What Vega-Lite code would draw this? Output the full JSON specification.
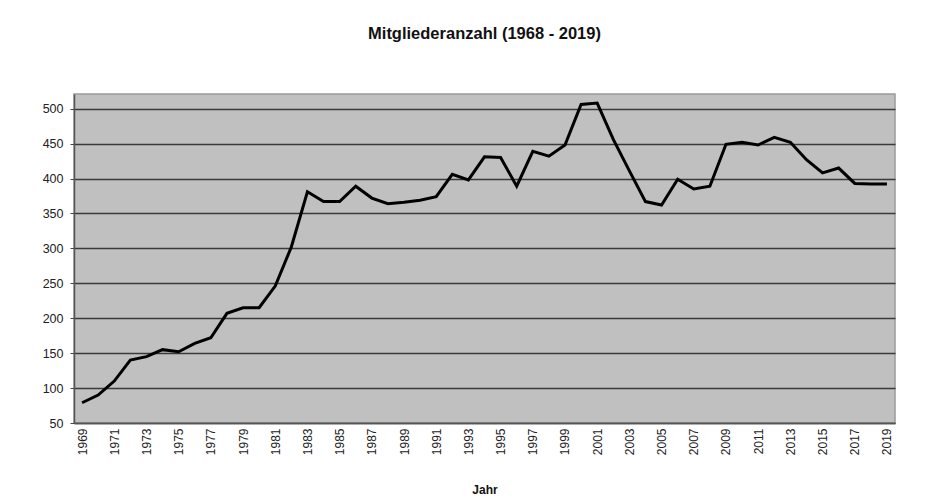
{
  "$schema": "https://vega.github.io/schema/vega-lite/v6.json",
  "width": 821,
  "height": 329,
  "autosize": {"type": "none"},
  "padding": {"left": 74, "top": 94, "right": 35, "bottom": 76},
  "background": "white",
  "title": {
    "text": "Mitgliederanzahl (1968 - 2019)",
    "font": "Liberation Sans",
    "fontSize": 16.5,
    "fontWeight": "bold",
    "color": "#111111",
    "anchor": "middle",
    "offset": 52
  },
  "config": {
    "view": {"fill": "#c0c0c0", "stroke": "#9a9a9a", "strokeWidth": 1.5}
  },
  "data": {
    "values": [
      {"Jahr": 1969, "Mitglieder": 79},
      {"Jahr": 1970, "Mitglieder": 90},
      {"Jahr": 1971, "Mitglieder": 110},
      {"Jahr": 1972, "Mitglieder": 140},
      {"Jahr": 1973, "Mitglieder": 145},
      {"Jahr": 1974, "Mitglieder": 155},
      {"Jahr": 1975, "Mitglieder": 152},
      {"Jahr": 1976, "Mitglieder": 164},
      {"Jahr": 1977, "Mitglieder": 172},
      {"Jahr": 1978, "Mitglieder": 207},
      {"Jahr": 1979, "Mitglieder": 215},
      {"Jahr": 1980, "Mitglieder": 215},
      {"Jahr": 1981, "Mitglieder": 246},
      {"Jahr": 1982, "Mitglieder": 302},
      {"Jahr": 1983, "Mitglieder": 381},
      {"Jahr": 1984, "Mitglieder": 367},
      {"Jahr": 1985, "Mitglieder": 367},
      {"Jahr": 1986, "Mitglieder": 389},
      {"Jahr": 1987, "Mitglieder": 372},
      {"Jahr": 1988, "Mitglieder": 364},
      {"Jahr": 1989, "Mitglieder": 366},
      {"Jahr": 1990, "Mitglieder": 369},
      {"Jahr": 1991, "Mitglieder": 374},
      {"Jahr": 1992, "Mitglieder": 406},
      {"Jahr": 1993, "Mitglieder": 398},
      {"Jahr": 1994, "Mitglieder": 431},
      {"Jahr": 1995, "Mitglieder": 430},
      {"Jahr": 1996, "Mitglieder": 389},
      {"Jahr": 1997, "Mitglieder": 439},
      {"Jahr": 1998, "Mitglieder": 432},
      {"Jahr": 1999, "Mitglieder": 448},
      {"Jahr": 2000, "Mitglieder": 506},
      {"Jahr": 2001, "Mitglieder": 508},
      {"Jahr": 2002, "Mitglieder": 456},
      {"Jahr": 2003, "Mitglieder": 411},
      {"Jahr": 2004, "Mitglieder": 367},
      {"Jahr": 2005, "Mitglieder": 362},
      {"Jahr": 2006, "Mitglieder": 399},
      {"Jahr": 2007, "Mitglieder": 385},
      {"Jahr": 2008, "Mitglieder": 389},
      {"Jahr": 2009, "Mitglieder": 449},
      {"Jahr": 2010, "Mitglieder": 452},
      {"Jahr": 2011, "Mitglieder": 448},
      {"Jahr": 2012, "Mitglieder": 459},
      {"Jahr": 2013, "Mitglieder": 452},
      {"Jahr": 2014, "Mitglieder": 427},
      {"Jahr": 2015, "Mitglieder": 408},
      {"Jahr": 2016, "Mitglieder": 415},
      {"Jahr": 2017, "Mitglieder": 393},
      {"Jahr": 2018, "Mitglieder": 392},
      {"Jahr": 2019, "Mitglieder": 392}
    ]
  },
  "mark": {"type": "line", "color": "#000000", "strokeWidth": 3, "strokeJoin": "miter"},
  "encoding": {
    "x": {
      "field": "Jahr",
      "type": "ordinal",
      "scale": {"type": "point", "padding": 0.5},
      "axis": {
        "title": "Jahr",
        "titleFont": "Liberation Sans",
        "titleFontSize": 12,
        "titleFontWeight": "bold",
        "titleColor": "#111111",
        "titlePadding": 30,
        "values": [1969,1971,1973,1975,1977,1979,1981,1983,1985,1987,1989,1991,1993,1995,1997,1999,2001,2003,2005,2007,2009,2011,2013,2015,2017,2019],
        "labelAngle": 270,
        "labelFont": "Liberation Sans",
        "labelFontSize": 12,
        "labelColor": "#222222",
        "labelPadding": 5,
        "ticks": false,
        "domainColor": "#555555",
        "domainWidth": 1.5,
        "grid": false
      }
    },
    "y": {
      "field": "Mitglieder",
      "type": "quantitative",
      "scale": {"domain": [50, 521], "nice": false, "zero": false},
      "axis": {
        "title": null,
        "values": [50,100,150,200,250,300,350,400,450,500],
        "labelFont": "Liberation Sans",
        "labelFontSize": 12.5,
        "labelColor": "#222222",
        "labelPadding": 7,
        "tickSize": 4,
        "tickColor": "#444444",
        "domainColor": "#555555",
        "domainWidth": 1.5,
        "grid": true,
        "gridColor": "#3a3a3a",
        "gridWidth": 1.5,
        "gridOpacity": 1
      }
    }
  }
}
